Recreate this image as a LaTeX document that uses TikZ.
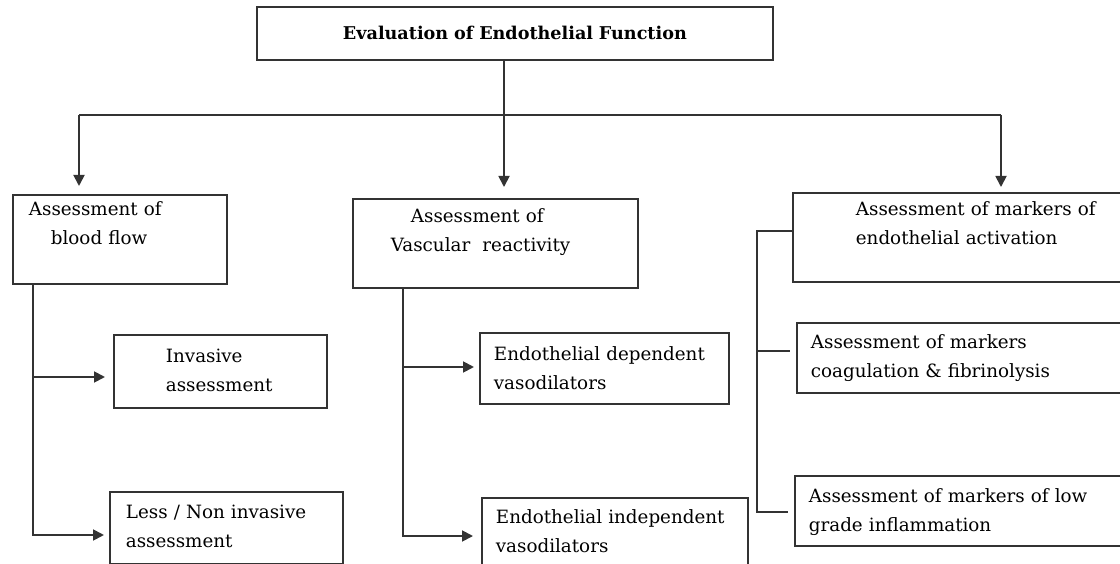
\documentclass[tikz,border=0pt]{standalone}
\usepackage{fontspec}
\setmainfont{DejaVu Serif}
\usetikzlibrary{arrows.meta}

\begin{document}
\begin{tikzpicture}[
        x=1pt, y=-1pt,
        box/.style={draw=black!80, line width=1.8pt, anchor=north west, align=left,
            inner ysep=0pt, font=\fontsize{18.3}{29}\selectfont},
        link/.style={draw=black!80, line width=1.8pt},
        arr/.style={link, -{Triangle[length=11pt,width=11pt]}}
    ]
    \useasboundingbox (0,0) rectangle (1120,564);
    \clip (0,0) rectangle (1120,564);

    \node[box, align=center, inner xsep=0pt, text width=516pt, text height=33pt, text depth=20pt,
        font=\bfseries\fontsize{17.6}{20}\selectfont] (eval) at (256,6) {Evaluation of Endothelial Function};

    \node[box, inner xsep=16pt, text width=182pt, text height=21pt, text depth=68pt]
        (flow) at (12,194) {Assessment of\\\hspace*{22pt}blood flow};
    \node[box, inner xsep=38pt, text width=209pt, text height=24pt, text depth=65pt]
        (react) at (352,198) {\hspace*{20pt}Assessment of\\Vascular\ \ reactivity};
    \node[box, inner xsep=63pt, text width=300pt, text height=23pt, text depth=66pt]
        (markers) at (792,192) {Assessment of markers of\\endothelial activation};

    \node[box, inner xsep=52pt, text width=109pt, text height=28pt, text depth=45pt]
        (invasive) at (113,334) {Invasive\\assessment};
    \node[box, inner xsep=16pt, text width=201pt, text height=27pt, text depth=45pt]
        (noninv) at (109,491) {Less / Non invasive\\assessment};
    \node[box, inner xsep=14pt, text width=221pt, text height=28pt, text depth=43pt]
        (dep) at (479,332) {Endothelial dependent\\vasodilators};
    \node[box, inner xsep=14pt, text width=238pt, text height=26pt, text depth=80pt]
        (indep) at (481,497) {Endothelial independent\\vasodilators};
    \node[box, inner xsep=14pt, text width=400pt, text height=26pt, text depth=44pt]
        (coag) at (796,322) {Assessment of markers\\coagulation \& fibrinolysis};
    \node[box, inner xsep=14pt, text width=400pt, text height=27pt, text depth=43pt]
        (inflam) at (794,475) {Assessment of markers of low\\grade inflammation};

    \coordinate (split) at (504,115);
    \coordinate (lhook) at (79,115);
    \coordinate (rhook) at (1001,115);
    \draw[link] (eval.south -| split) -- (split);
    \draw[link] (lhook) -- (rhook);
    \draw[arr, shorten >=11pt] (split) -- (split |- react.north);
    \draw[arr, shorten >=8pt] (lhook) -- (lhook |- flow.north);
    \draw[arr, shorten >=5pt] (rhook) -- (rhook |- markers.north);

    \coordinate (flowtap1) at (33,377);
    \coordinate (flowtap2) at (33,535);
    \draw[arr, shorten >=8pt] (flowtap1) -- (flowtap1 -| invasive.west);
    \draw[arr, shorten >=5pt] (flow.south -| flowtap2) |- (noninv.west |- flowtap2);

    \coordinate (reacttap1) at (403,367);
    \coordinate (reacttap2) at (403,536);
    \draw[arr, shorten >=5pt] (reacttap1) -- (reacttap1 -| dep.west);
    \draw[arr, shorten >=8pt] (react.south -| reacttap2) |- (indep.west |- reacttap2);

    \coordinate (markerstap0) at (757,231);
    \coordinate (markerstap1) at (757,351);
    \coordinate (markerstap2) at (757,512);
    \draw[link, shorten >=6pt] (markers.west |- markerstap0) -| (markerstap2) -- (inflam.west |- markerstap2);
    \draw[link, shorten >=6pt] (markerstap1) -- (markerstap1 -| coag.west);
\end{tikzpicture}
\end{document}
